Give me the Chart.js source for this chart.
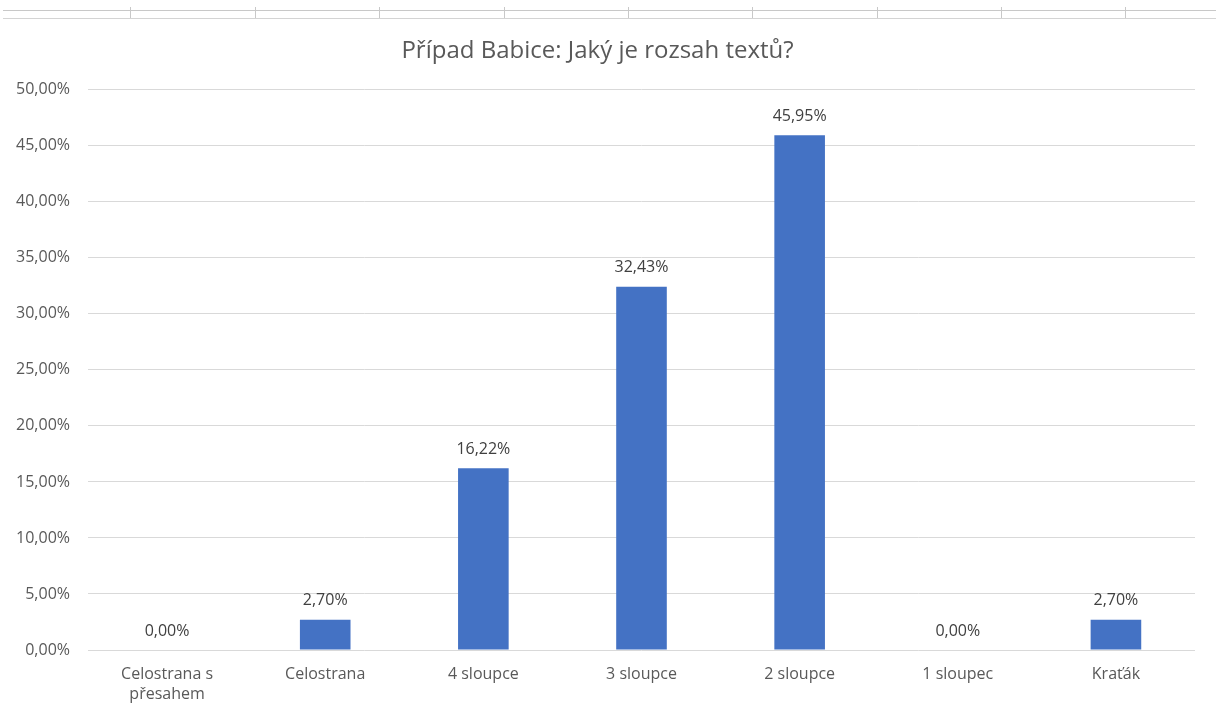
<!DOCTYPE html>
<html>
    <head>
        <title>Případ Babice</title>
        <script src="https://cdn.jsdelivr.net/npm/chart.js@4/dist/chart.umd.min.js"></script>
        <style>
            html, body { margin: 0; padding: 0; background: #fff; }
            #wrap { position: relative; width: 1216px; height: 713px; }
            #cells { position: absolute; left: 3px; top: 10px; width: 1213px; height: 7px;
                     border-top: 1px solid #c8c8c8; border-bottom: 1px solid #d4d4d4; }
            .vl { position: absolute; top: -4px; height: 11px; border-left: 1px solid #c8c8c8; }
        </style>
    </head>
    <body>
        <div id="wrap">
            <div id="cells"></div>
            <canvas id="myChart" width="1216" height="713"></canvas>
        </div>
        <script>
            // data
            var categories = [['Celostrana s', 'přesahem'], 'Celostrana', '4 sloupce', '3 sloupce', '2 sloupce', '1 sloupec', 'Kraťák'];
            var shares = [0.00, 2.70, 16.22, 32.43, 45.95, 0.00, 2.70];
            var titleText = 'Případ Babice: Jaký je rozsah textů?';

            // spreadsheet cell borders at the top
            var cellX = [130, 255, 379, 504, 628, 752, 877, 1001, 1125];
            var cells = document.getElementById('cells');
            cellX.forEach(function(x) {
                var d = document.createElement('div');
                d.className = 'vl';
                d.style.left = (x - 3) + 'px';
                cells.appendChild(d);
            });

            function pct(v) { return v.toFixed(2).replace('.', ',') + '%'; }

            var valueLabels = { //draw the value above each bar
                id: 'valueLabels',
                afterDatasetsDraw: function(chart) {
                    var ctx = chart.ctx;
                    var meta = chart.getDatasetMeta(0);
                    ctx.save();
                    ctx.font = '16px "Open Sans"';
                    ctx.fillStyle = '#404040';
                    ctx.textAlign = 'center';
                    ctx.textBaseline = 'middle';
                    meta.data.forEach(function(bar, i) {
                        ctx.fillText(pct(shares[i]), bar.x, bar.y - 19);
                    });
                    ctx.restore();
                }
            };

            var ctx = document.getElementById('myChart').getContext('2d');
            var chart = new Chart(ctx, {
                type: 'bar',
                data: {
                    labels: categories,
                    datasets: [{
                        data: shares,
                        backgroundColor: '#4472c4',
                        categoryPercentage: 1,
                        barPercentage: 0.32
                    }]
                },
                options: {
                    responsive: false,
                    animation: false,
                    layout: { padding: { left: 0, right: 21, top: 0, bottom: 0 } },
                    plugins: {
                        legend: { display: false },
                        tooltip: { enabled: false },
                        title: {
                            display: true,
                            text: titleText,
                            color: '#595959',
                            font: { family: '"Open Sans"', size: 24, weight: 'normal' },
                            padding: { top: 37, bottom: 24 }
                        }
                    },
                    scales: {
                        x: {
                            grid: { display: false },
                            border: { display: false },
                            ticks: {
                                color: '#595959',
                                font: { family: '"Open Sans"', size: 16, lineHeight: 1.25 },
                                padding: 6,
                                maxRotation: 0
                            },
                            afterFit: function(s) { s.height = 63; }
                        },
                        y: {
                            min: 0,
                            max: 50,
                            grid: { color: '#d9d9d9', drawTicks: false },
                            border: { display: false },
                            ticks: {
                                stepSize: 5,
                                color: '#595959',
                                font: { family: '"Open Sans"', size: 16 },
                                padding: 18,
                                callback: function(v) { return pct(v); }
                            },
                            afterFit: function(s) { s.width = 88; }
                        }
                    }
                },
                plugins: [valueLabels]
            });
        </script>
    </body>
</html>
